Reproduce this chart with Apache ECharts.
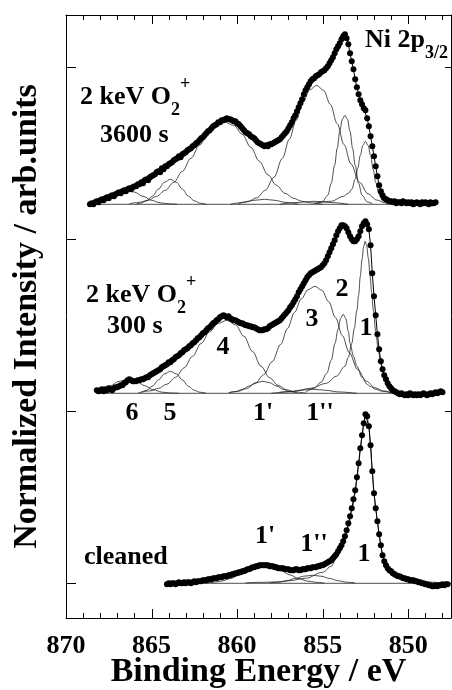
<!DOCTYPE html>
<html>
<head>
<meta charset="utf-8">
<title>Ni 2p3/2</title>
<script src="https://cdn.jsdelivr.net/npm/echarts@6.0.0/dist/echarts.min.js"></script>
<style>
html, body { margin: 0; padding: 0; background: #fff; }
#chart { width: 452px; height: 690px; }
</style>
</head>
<body>
<div id="chart"></div>
<script>
// measured spectra, one point every 0.1 eV going down from the start energy
var STEP = 0.1;

var spec3600Start = 868.6;
var spec3600 = [
    0, 1, 0, 2, 3, 2, 4, 5, 4, 6,
    7, 6, 8, 9, 8, 10, 11, 12, 11, 13,
    14, 13, 15, 16, 15, 17, 18, 18, 20, 20,
    22, 21, 24, 25, 24, 27, 28, 29, 30, 32,
    33, 32, 36, 35, 38, 38, 40, 41, 42, 44,
    45, 46, 48, 47, 50, 51, 52, 54, 55, 56,
    58, 59, 61, 62, 64, 66, 67, 69, 71, 73,
    74, 76, 78, 79, 80, 82, 82, 84, 84, 85,
    86, 85, 85, 84, 83, 83, 81, 80, 78, 76,
    74, 72, 71, 70, 68, 67, 66, 64, 62, 61,
    60, 59, 58, 59, 58, 60, 60, 61, 62, 63,
    64, 65, 67, 69, 71, 73, 76, 79, 82, 86,
    89, 93, 97, 101, 105, 110, 114, 117, 120, 123,
    125, 126, 128, 129, 130, 132, 133, 134, 136, 138,
    141, 144, 147, 151, 155, 158, 161, 165, 168, 170,
    166, 160, 151, 143, 135, 125, 117, 110, 104, 100,
    96, 94, 86, 78, 68, 58, 48, 38, 28, 19,
    13, 9, 6, 5, 4, 3, 3, 2, 3, 1,
    2, 2, 1, 3, 2, 1, 2, 1, 2, 0,
    1, 2, 1, 0, 2, 1, 2, 1, 0, 2,
    1, 1, 2
];

var spec300Start = 868.2;
var spec300 = [
    3, 2, 3, 4, 2, 4, 3, 5, 4, 3,
    5, 6, 6, 7, 8, 8, 10, 11, 13, 14,
    13, 12, 12, 12, 13, 13, 14, 14, 15, 16,
    16, 18, 19, 20, 21, 22, 23, 24, 26, 27,
    28, 29, 31, 31, 33, 34, 36, 37, 38, 40,
    41, 43, 44, 45, 47, 48, 50, 51, 53, 55,
    56, 58, 60, 61, 63, 65, 66, 68, 70, 71,
    73, 74, 76, 77, 78, 77, 76, 77, 75, 74,
    73, 73, 72, 71, 70, 70, 69, 68, 68, 67,
    67, 66, 66, 65, 64, 63, 63, 63, 64, 64,
    65, 67, 68, 69, 70, 71, 72, 73, 75, 77,
    79, 81, 83, 86, 88, 91, 94, 97, 101, 104,
    107, 110, 113, 116, 118, 120, 121, 122, 123, 124,
    125, 126, 128, 130, 133, 137, 141, 145, 149, 153,
    158, 162, 165, 168, 168, 167, 165, 161, 157, 154,
    152, 152, 154, 157, 162, 167, 170, 172, 169, 164,
    148, 120, 97, 78, 59, 44, 32, 24, 18, 14,
    10, 7, 5, 3, 2, 1, 0, -1, 0, -1,
    -2, -1, -2, 0, -1, -2, -1, -2, -1, -2,
    -1, 0, -1, -2, -1, 0, -1, 0, 1, 0,
    1, 2, 1
];

var specCleanStart = 864.1;
var specClean = [
    -1, 0, -1, 0, 0, -1, 0, 1, 0, 0,
    1, 0, 1, 1, 0, 1, 2, 1, 2, 2,
    2, 3, 3, 3, 4, 4, 4, 5, 5, 5,
    6, 6, 6, 7, 7, 7, 8, 8, 9, 9,
    10, 10, 11, 11, 12, 12, 13, 14, 14, 15,
    16, 16, 17, 17, 18, 18, 18, 18, 18, 18,
    17, 17, 17, 16, 16, 15, 15, 15, 15, 14,
    14, 14, 13, 13, 13, 14, 14, 13, 13, 14,
    14, 14, 15, 15, 15, 16, 16, 16, 17, 17,
    18, 18, 19, 20, 21, 22, 23, 25, 27, 29,
    32, 35, 38, 42, 47, 53, 60, 67, 75, 84,
    93, 106, 120, 135, 148, 160, 169, 167, 157, 138,
    112, 90, 75, 62, 49, 38, 28, 22, 18, 15,
    13, 12, 10, 9, 8, 7, 7, 6, 5, 5,
    4, 4, 3, 3, 3, 2, 2, 1, 1, 0,
    0, -1, -1, -2, -2, -3, -3, -2, -3, -2,
    -2, -1, -2, -1, -1
];

// stacking offsets of the three spectra
var off3600 = 379;
var off300 = 190;
var offClean = 0;

// fitted components [binding energy, intensity], 3600 s
var c3600_1 = [[855.5,1],[854.5,3],[853.8,8],[853.5,11],[853.3,15],[853.1,25],[852.95,36],[852.8,49],[852.65,59],[852.5,63],[852.35,59],[852.2,49],[852.05,35],[851.9,22],[851.7,10],[851.5,4],[851.2,1],[850.8,0]];
var c3600_2 = [[855.3,1],[855.0,3],[854.7,9],[854.5,21],[854.3,39],[854.15,56],[854.0,73],[853.85,85],[853.7,89],[853.55,85],[853.4,73],[853.25,56],[853.1,39],[852.9,21],[852.7,9],[852.4,2.5],[852.1,0.5]];
var c3600_3 = [[859.95,0],[859.35,3],[858.85,6.5],[858.35,14],[857.85,27],[857.35,46],[856.95,65],[856.55,84],[856.15,102],[855.75,114.6],[855.35,119],[854.95,114],[854.55,100],[854.15,80.6],[853.75,59.6],[853.35,40.4],[852.85,22],[852.35,10.5],[851.85,4.3],[851.35,1.5],[850.8,0]];
var c3600_4 = [[866.3,0.5],[865.7,2],[865.2,4],[864.7,8],[864.2,14],[863.7,22],[863.2,33],[862.7,46],[862.2,59],[861.7,71],[861.2,79],[860.7,82],[860.2,79],[859.7,70],[859.2,57],[858.7,43],[858.2,29.5],[857.7,19],[857.2,11],[856.7,6],[856.2,3],[855.7,1.4],[855.0,0]];
var c3600_5 = [[865.9,0],[865.65,1.1],[865.3,3.4],[864.95,8.1],[864.6,15.2],[864.25,22],[863.9,25],[863.55,22],[863.2,15.2],[862.85,8.1],[862.5,3.4],[862.15,1.1],[861.8,0]];
var c3600_6 = [[868.4,3],[868.0,5.5],[867.5,9.5],[867.0,12.8],[866.5,14],[866.0,12.2],[865.5,8],[865.0,4],[864.5,1.5],[864.0,0.5],[863.5,0]];
var c3600_1p = [[860.4,0],[859.6,2],[859.0,4],[858.4,5],[857.8,4],[857.2,2],[856.4,0]];
var c3600_1pp = [[857.5,0],[856.5,1.8],[855.5,3],[854.5,1.8],[853.5,0]];

// 300 s
var c300_1 = [[857.5,1],[856.7,2],[855.7,5],[854.8,10],[854.2,17],[853.7,27],[853.5,36],[853.3,50],[853.15,65],[853.0,83],[852.9,98],[852.8,117],[852.7,134],[852.6,147],[852.52,152],[852.43,148],[852.33,135],[852.23,117],[852.13,100],[852.04,83],[851.9,62],[851.75,43],[851.6,29],[851.45,20],[851.25,10],[851.06,3],[850.8,0]];
var c300_2 = [[856.0,1],[855.5,5],[855.1,11],[854.76,20],[854.5,33],[854.28,50],[854.1,64],[853.95,75],[853.8,79],[853.65,75],[853.5,62],[853.4,50],[853.2,37],[853.0,27],[852.7,16],[852.4,9],[852.23,7],[851.9,4],[851.5,2],[851.0,0.5]];
var c300_3 = [[860.45,0.8],[859.95,2],[859.45,4.7],[858.95,9.8],[858.45,18.5],[857.95,31.6],[857.45,49],[857.05,64.9],[856.65,80.8],[856.25,94.4],[855.85,103.7],[855.45,107],[855.05,103],[854.65,91.7],[854.25,75.7],[853.85,57.7],[853.45,40.8],[852.95,23.6],[852.45,12.2],[851.95,5.6],[851.45,2.3],[850.95,0.8]];
var c300_4 = [[865.6,1],[865.1,2.4],[864.6,4.9],[864.1,9.2],[863.6,15.9],[863.1,25.4],[862.6,37.1],[862.1,49.9],[861.6,61.6],[861.1,70],[860.6,73],[860.1,68.6],[859.6,57],[859.1,41.8],[858.6,27],[858.1,15.5],[857.6,7.8],[857.1,3.5],[856.6,1.3],[856.0,0]];
var c300_5 = [[865.8,0],[865.65,1],[865.3,3],[864.95,7.1],[864.6,13.4],[864.25,19.4],[863.9,22],[863.55,19.4],[863.2,13.4],[862.85,7.1],[862.5,3],[862.15,1],[861.8,0]];
var c300_6 = [[868.2,1.6],[867.9,3.5],[867.4,7.6],[866.9,12],[866.4,14],[865.9,12],[865.4,7.6],[864.9,3.5],[864.4,1.2],[863.9,0.3],[863.4,0]];
var c300_1p = [[860.5,0.5],[860.1,1.6],[859.7,3.9],[859.3,7.3],[858.9,10.6],[858.5,12],[858.1,10.6],[857.7,7.3],[857.3,3.9],[856.9,1.6],[856.5,0.5]];
var c300_1pp = [[858.0,0],[857.0,1.4],[856.3,3],[855.55,4],[854.8,3],[854.1,1.4],[853.0,0]];

// cleaned
var cClean_1 = [[859.5,0.5],[858.5,1],[857.5,1.5],[857.0,2.5],[856.0,5],[855.0,11],[854.5,17],[854.2,25],[854.0,32],[853.7,44],[853.5,56],[853.3,72],[853.1,90],[853.0,103],[852.9,118],[852.8,133],[852.7,147],[852.6,159],[852.5,168],[852.4,167],[852.3,156],[852.2,137],[852.1,111],[852.0,89],[851.9,74],[851.8,61],[851.7,48],[851.6,37],[851.5,28],[851.3,18],[851.0,12],[850.5,7],[850.0,4],[849.0,1.5],[848.0,0.5],[847.5,0]];
var cClean_1p = [[861.9,0.3],[861.4,1],[860.9,2.3],[860.4,4.7],[859.9,8.3],[859.4,12.3],[858.9,15.7],[858.4,17],[857.9,15.7],[857.4,12.3],[856.9,8.3],[856.4,4.7],[855.9,2.3],[855.4,1],[854.9,0.3]];
var cClean_1pp = [[858.1,0.35],[857.6,1.1],[857.1,2.6],[856.6,4.9],[856.1,7.1],[855.6,8],[855.1,7.1],[854.6,4.9],[854.1,2.6],[853.6,1.1],[853.1,0.35]];

// background line range of each fit
var base3600 = [868.4, 851.0];
var base300 = [868.2, 850.8];
var baseClean = [862.0, 847.6];

// axes
var xMin = 847.5, xMax = 870;
var xLabels = [850, 855, 860, 865, 870];
var xTicks = [848, 849, 850, 851, 852, 853, 854, 855, 856, 857, 858, 859,
              860, 861, 862, 863, 864, 865, 866, 867, 868, 869, 870];
var yMin = -34.7, yMax = 568.3;
var yTicks = [0, 172, 344, 516];

var serif = "'Liberation Serif', 'Times New Roman', serif";

function spectrum(start, vals, off) {
    return vals.map(function (v, i) {
        return [Math.round((start - i * STEP) * 10) / 10, v + off];
    });
}
function shift(pts, off) {
    return pts.map(function (p) { return [p[0], p[1] + off]; });
}
function compSeries(pts, off) {
    return {
        type: 'line', data: shift(pts, off), showSymbol: false, symbol: 'none',
        smooth: 0.35, smoothMonotone: 'x', silent: true,
        lineStyle: { color: '#222', width: 0.8 }, z: 2
    };
}
function baseSeries(range, off) {
    return {
        type: 'line', data: [[range[0], off], [range[1], off]], symbol: 'none', silent: true,
        lineStyle: { color: '#222', width: 0.8 }, z: 2
    };
}
function dataSeries(start, vals, off) {
    return {
        type: 'line', data: spectrum(start, vals, off), symbol: 'circle', symbolSize: 6,
        showSymbol: true, showAllSymbol: true, silent: true,
        itemStyle: { color: '#000' }, lineStyle: { color: '#000', width: 1 }, z: 3
    };
}

var series = [
    baseSeries(base3600, off3600), baseSeries(base300, off300), baseSeries(baseClean, offClean)
];
[c3600_1, c3600_2, c3600_3, c3600_4, c3600_5, c3600_6, c3600_1p, c3600_1pp].forEach(function (c) {
    series.push(compSeries(c, off3600));
});
[c300_1, c300_2, c300_3, c300_4, c300_5, c300_6, c300_1p, c300_1pp].forEach(function (c) {
    series.push(compSeries(c, off300));
});
[cClean_1, cClean_1p, cClean_1pp].forEach(function (c) {
    series.push(compSeries(c, offClean));
});
series.push(dataSeries(spec3600Start, spec3600, off3600));
series.push(dataSeries(spec300Start, spec300, off300));
series.push(dataSeries(specCleanStart, specClean, offClean));

var rich = {
    sub: { fontSize: 18, lineHeight: 18, verticalAlign: 'bottom', fontWeight: 'bold', fontFamily: serif },
    sup: { fontSize: 18, lineHeight: 36, verticalAlign: 'top', fontWeight: 'bold', fontFamily: serif }
};
function note(x, y, text, align) {
    return {
        type: 'text', x: x, y: y, silent: true, z: 10,
        style: {
            text: text, align: align || 'center', verticalAlign: 'middle',
            fontSize: 26, fontWeight: 'bold', fontFamily: serif, fill: '#000',
            lineHeight: 44, rich: rich
        }
    };
}
var notes = [
    note(365, 40, 'Ni 2p{sub|3/2}', 'left'),
    note(80, 97, '2 keV O{sub|2}{sup|+}', 'left'),
    note(100, 135, '3600 s', 'left'),
    note(86, 295, '2 keV O{sub|2}{sup|+}', 'left'),
    note(107, 326, '300 s', 'left'),
    note(223, 347, '4'),
    note(312, 319, '3'),
    note(342, 289, '2'),
    note(366, 328, '1'),
    note(132, 413, '6'),
    note(170, 413, '5'),
    note(263, 413, "1'"),
    note(320, 413, "1''"),
    note(265, 536, "1'"),
    note(314, 544, "1''"),
    note(364, 554, '1'),
    note(84, 557, 'cleaned', 'left')
];

var frameLine = { color: '#000', width: 1 };
function xAxisDef(position) {
    return {
        type: 'value', min: xMin, max: xMax, inverse: true, position: position,
        axisLine: { show: true, onZero: false, lineStyle: frameLine },
        axisTick: { show: false },
        splitLine: { show: false },
        axisLabel: { show: false }
    };
}
function yAxisDef(position) {
    return {
        type: 'value', min: yMin, max: yMax, position: position,
        axisLine: { show: true, onZero: false, lineStyle: frameLine },
        axisTick: { show: false },
        axisLabel: { show: false }, splitLine: { show: false }
    };
}
var xBottom = xAxisDef('bottom');
xBottom.axisLabel = {
    show: true, margin: 15, customValues: xLabels,
    fontSize: 26, fontWeight: 'bold', fontFamily: serif, color: '#000'
};
xBottom.name = 'Binding Energy / eV';
xBottom.nameLocation = 'middle';
xBottom.nameGap = 37;
xBottom.nameMoveOverlap = false;
xBottom.nameTextStyle = { fontSize: 34, fontWeight: 'bold', fontFamily: serif, color: '#000' };

var yLeft = yAxisDef('left');
yLeft.name = 'Normalized Intensity / arb.units';
yLeft.nameLocation = 'middle';
yLeft.nameGap = 22;
yLeft.nameTextStyle = { fontSize: 34, fontWeight: 'bold', fontFamily: serif, color: '#000' };

var myChart = echarts.init(document.getElementById('chart'), null, { renderer: 'canvas' });
var option = {
    animation: false,
    backgroundColor: '#fff',
    grid: { left: 66, top: 15, bottom: 72, right: 1, containLabel: false, outerBoundsMode: 'none' },
    xAxis: [xBottom, xAxisDef('top')],
    yAxis: [yLeft, yAxisDef('right')],
    graphic: notes,
    series: series
};
myChart.setOption(option);

// inward tick marks on all four sides, placed through the chart's own scales,
// drawn as filled 1px rectangles
function px(x, y) {
    return myChart.convertToPixel({ xAxisIndex: 0, yAxisIndex: 0 }, [x, y]);
}
function tickRect(x, y, w, h) {
    return {
        type: 'rect', silent: true, z: 20,
        shape: { x: x, y: y, width: w, height: h },
        style: { fill: '#000', stroke: null }
    };
}
var yTopPx = Math.round(px(xMax, yMax)[1]);
var yBotPx = Math.round(px(xMax, yMin)[1]);
var xLeftPx = Math.round(px(xMax, yMin)[0]);
var xRightPx = Math.round(px(xMin, yMin)[0]);
var ticks = [];
xTicks.forEach(function (e) {
    var len = xLabels.indexOf(e) >= 0 ? 9 : 5;
    var x = Math.round(px(e, yMin)[0]);
    ticks.push(tickRect(x, yBotPx - len, 1, len));
    ticks.push(tickRect(x, yTopPx, 1, len));
});
yTicks.forEach(function (v) {
    var y = Math.round(px(xMax, v)[1]);
    ticks.push(tickRect(xLeftPx, y, 10, 1));
    ticks.push(tickRect(xRightPx - 6, y, 6, 1));
});
myChart.setOption({ graphic: notes.concat(ticks) });

window.addEventListener('resize', function () {
    myChart.resize();
});
</script>
</body>
</html>
